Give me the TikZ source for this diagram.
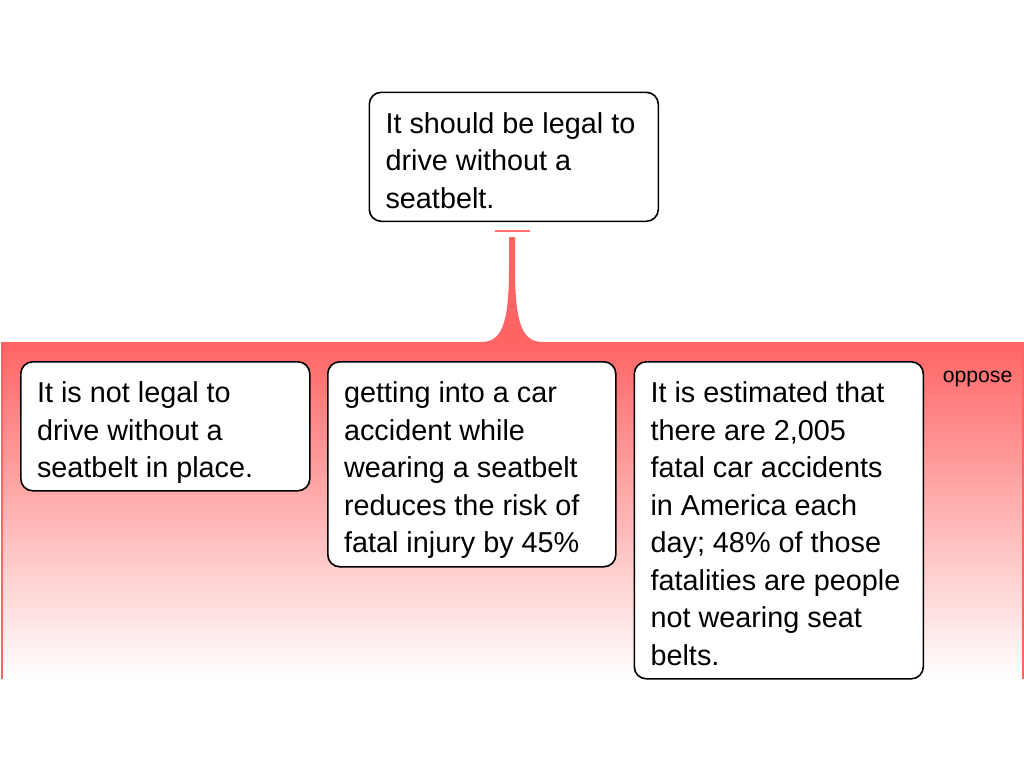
\documentclass[tikz,border=0pt]{standalone}
\usepackage{fontspec}
\setmainfont{Liberation Sans}
\definecolor{regred}{RGB}{255,100,100}
\definecolor{barred}{RGB}{255,112,112}
\newcommand\argtext[3]{\parbox[t][#1][t]{#2}{\raggedright\leftskip=12.2pt\rule{0pt}{30.75pt}#3}}
\tikzset{
  argbox/.style={draw=black, line width=1.2pt, rounded corners=9pt, fill=white,
    inner sep=0pt, anchor=north west, align=left,
    font=\fontsize{21.6pt}{28.125pt}\selectfont},
  grpbox/.style={inner sep=0pt, anchor=north west, top color=regred, bottom color=white,
    minimum width=765pt, minimum height=252pt},
  grplabel/.style={font=\fontsize{15.9pt}{18pt}\selectfont, anchor=base west, inner sep=0pt}
}
\begin{document}
\begin{tikzpicture}[x=0.75pt,y=-0.75pt]
\useasboundingbox (0,0) rectangle (1024,768);
% opposing group region
\node[grpbox] (grp) at (2,342) {};
\draw[regred, line width=1.5pt] (grp.north west) -- (grp.south west);
\draw[regred, line width=1.5pt] (grp.north east) -- (grp.south east);
\node[grplabel] (opp) at (942.5,382.3) {oppose};
% stem
\fill[regred] (509,237) -- (509,268) .. controls (509,326) and (501,342) .. (481,342)
  -- (543,342) .. controls (523,342) and (515,326) .. (515,268) -- (515,237) -- cycle;
% claim
\node[argbox] (claim) at (368.5,91.5) {\argtext{96.75pt}{216.75pt}{It should be legal to\\drive without a\\seatbelt.}};
\draw[barred, line width=1pt] (495,231) -- (530,231);
% reasons
\node[argbox] (r1) at (20,361) {\argtext{96.75pt}{216.75pt}{It is not legal to\\drive without a\\seatbelt in place.}};
\node[argbox] (r2) at (327,361) {\argtext{153.75pt}{216pt}{getting into a car\\accident while\\wearing a seatbelt\\reduces the risk of\\fatal injury by 45\%}};
\node[argbox] (r3) at (633.5,361) {\argtext{237.75pt}{216.75pt}{It is estimated that\\there are 2,005\\fatal car accidents\\in America each\\day; 48\% of those\\fatalities are people\\not wearing seat\\belts.}};
\end{tikzpicture}
\end{document}
